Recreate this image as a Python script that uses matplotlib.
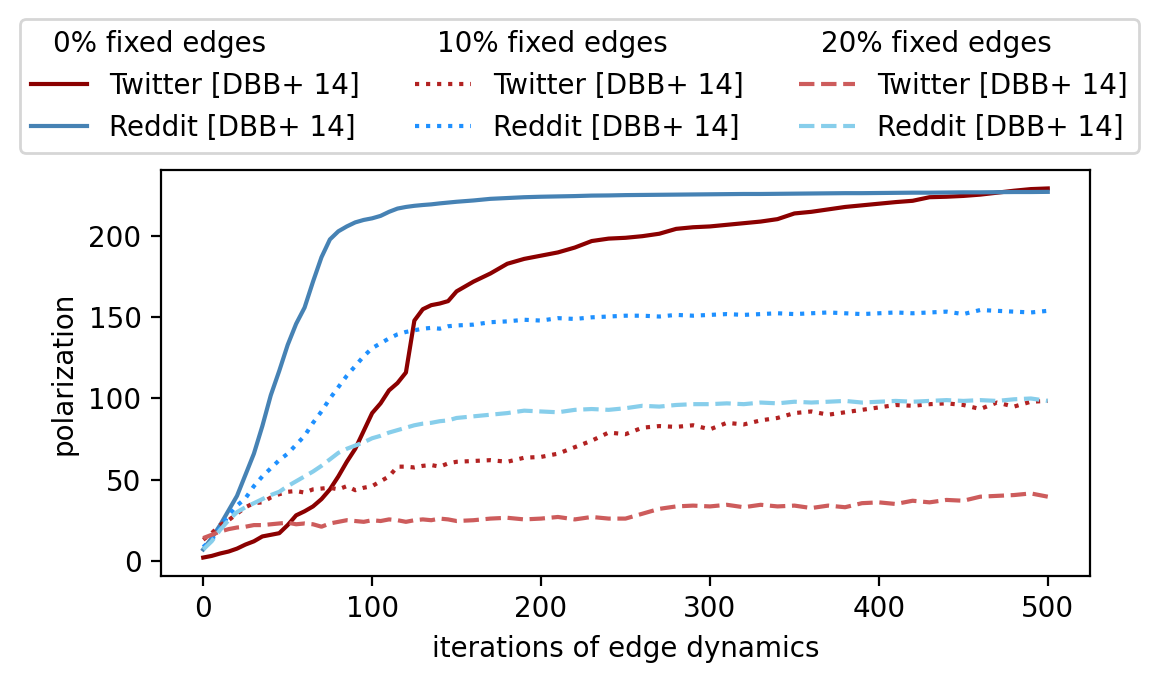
import matplotlib
matplotlib.use("Agg")
import matplotlib.pyplot as plt
import numpy as np

iterations = list(range(0, 151, 5)) + list(range(160, 501, 10))

reddit_0 = [7, 14, 22, 31, 40, 53, 66, 83, 102, 117, 133, 146, 156, 172, 187, 198, 203, 206, 208.5, 210, 211,
            212.5, 215, 217, 218, 218.7, 219.2, 219.6, 220.2, 220.7, 221.2,
            222, 223, 223.5, 224, 224.3, 224.5, 224.7, 225, 225.1, 225.3, 225.4, 225.5, 225.6, 225.7, 225.8,
            225.9, 226, 226, 226.1, 226.2, 226.3, 226.4, 226.5, 226.5, 226.6, 226.7, 226.8, 226.8, 226.9,
            227, 227, 227.1, 227.2, 227.2, 227.3]
twitter_0 = [2, 3, 4.5, 5.7, 7.5, 10, 12, 15, 16, 17, 22, 28, 30.5, 33.5, 38, 44, 52, 61, 69, 80, 91,
             97, 105, 109.5, 116, 148, 155, 157.5, 158.5, 160, 166,
             172, 177, 183, 186, 188, 190, 193, 197, 198.5, 199, 200, 201.5, 204.5, 205.5, 206,
             207, 208, 209, 210.5, 214, 215, 216.5, 218, 219, 220, 221, 221.8, 224, 224.3,
             224.8, 225.6, 226.8, 228, 229, 229.4]
reddit_10 = [8.5, 13, 20, 28, 34, 38.5, 46, 52, 57, 62, 66, 71.5, 77, 85, 92, 100, 107, 114, 120, 126, 131,
             134, 137, 139.5, 141, 142, 143, 143.5, 143, 144.5, 145,
             145.5, 147, 147.5, 148.5, 148, 149.5, 149, 150, 150.5, 151, 151, 150.5, 151.5, 151, 151.5,
             152, 151.5, 152, 152.5, 152, 152.5, 153, 152.5, 152, 152.5, 153, 152.5, 153, 153.5,
             152, 154.5, 154, 153.5, 153, 154]
reddit_20 = [7, 12, 19, 25, 30, 33, 35.5, 38, 40.5, 42.5, 46, 49, 52, 55, 58.5, 62.5, 66.5, 69, 71, 73, 75.5,
             77, 79, 80.5, 82, 83.5, 84.5, 85, 86, 86.5, 88,
             89, 90, 91, 92.5, 92, 91.5, 93, 93.5, 93, 94, 95.5, 95, 96, 96.5, 96.5,
             97, 96.5, 97.5, 97, 98, 97.5, 98, 98.5, 97.5, 98, 98.5, 98, 98.5, 99,
             98.5, 99, 98.5, 99.5, 100, 98.5]
twitter_10 = [13, 17, 22, 25, 29, 33, 35.5, 36, 39, 41, 42.5, 43, 42, 44, 44.5, 45, 44, 46, 43.5, 45, 46,
              49, 52, 58, 58, 57.5, 58.5, 59, 58, 60, 61,
              61.5, 62, 61, 63.5, 64, 66, 70, 74, 79, 78, 82, 83, 82.5, 83.5, 81,
              85, 84, 86.5, 88, 91, 92, 90, 91.5, 93, 94.5, 96, 95.5, 96.5, 97,
              96, 93.5, 97.5, 95, 98, 98.5]
twitter_20 = [14, 16, 18, 19.5, 20.5, 21, 22, 22, 22.5, 23, 23.5, 22.5, 23, 22.5, 21, 23, 24, 25, 24.5, 24, 25,
              24.5, 25.5, 25, 24, 25, 25.5, 25, 26, 25.5, 24.5,
              25, 26, 26.5, 25.5, 26, 27, 25.5, 27, 26, 26, 29, 32, 33.5, 34, 33.5,
              34.5, 33, 34.5, 33.5, 34, 32.5, 34, 33, 35.5, 36, 35, 37, 36, 37.5,
              37, 39.5, 40, 40.5, 41.5, 39.5]

headers = ["0% fixed edges", "10% fixed edges", "20% fixed edges"]
label_twitter = "Twitter [DBB+ 14]"
label_reddit = "Reddit [DBB+ 14]"

fig = plt.figure(figsize=(1159 / 200, 683 / 200), dpi=200)
ax = fig.add_axes([161 / 1159, 1 - 576 / 683, (1090 - 161) / 1159, (576 - 170) / 683])

series = [
    (twitter_0, "darkred", "-"), (reddit_0, "steelblue", "-"),
    (twitter_10, "firebrick", ":"), (reddit_10, "dodgerblue", ":"),
    (twitter_20, "indianred", "--"), (reddit_20, "skyblue", "--"),
]
lines = []
for vals, c, ls in series:
    ln, = ax.plot(iterations, vals, color=c, linestyle=ls, linewidth=1.5)
    lines.append(ln)

ax.set_xlabel("iterations of edge dynamics")
ax.set_ylabel("polarization")
ax.set_xticks([0, 100, 200, 300, 400, 500])
ax.set_yticks([0, 50, 100, 150, 200])

blank = plt.Line2D([], [], linestyle="none")
handles, labels = [], []
for i in range(3):
    handles += [blank, lines[2 * i], lines[2 * i + 1]]
    labels += [headers[i], label_twitter, label_reddit]

leg = fig.legend(handles, labels, loc="upper center", ncol=3,
                 bbox_to_anchor=(0.5, 1 - 19 / 683), borderaxespad=0)
for t in leg.get_texts():
    if t.get_text() in headers:
        t.set_x(-56)

fig.savefig("out.png", dpi=200)
